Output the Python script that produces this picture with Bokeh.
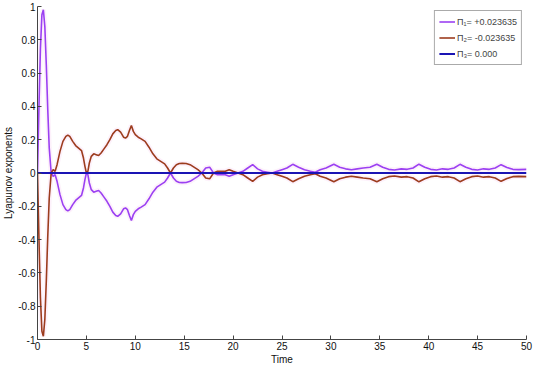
from bokeh.plotting import figure
from bokeh.models import Range1d, FixedTicker, CustomJSTickFormatter, Legend, LegendItem
from bokeh.embed import file_html
from bokeh.resources import INLINE

# ---- data ----
time_pts = [0, 0.15, 0.3, 0.45, 0.6, 0.75, 0.9, 1.05, 1.2, 1.4, 1.6, 1.8, 2.0, 2.3, 2.6, 2.9,
            3.1, 3.3, 3.6, 3.9, 4.2, 4.5, 4.7, 4.85, 5.0, 5.15, 5.3, 5.5, 5.75, 6.0, 6.25,
            6.5, 6.8, 7.1, 7.4, 7.7, 8.0, 8.2, 8.5, 8.8, 9.0, 9.2, 9.4, 9.6, 9.8, 10.0,
            10.3, 10.6, 11.0, 11.4, 11.8, 12.2, 12.6, 13.0, 13.3, 13.6, 13.9, 14.2, 14.5,
            14.8, 15.2, 15.6, 16.0, 16.4, 16.8, 17.2, 17.6, 18.0, 18.4, 18.8, 19.2, 19.6,
            20.0, 20.5, 21.0, 21.5, 22.0, 22.5, 23.0, 23.5, 24.0, 24.5, 25.0, 25.5, 26.1,
            26.7, 27.3, 27.9, 28.4, 28.9, 29.5, 30.3, 30.9, 31.5, 32.1, 32.7, 33.3, 34.0,
            34.7, 35.3, 35.9, 36.5, 37.2, 37.8, 38.4, 39.0, 39.6, 40.2, 40.8, 41.4, 42.0,
            42.6, 43.2, 43.8, 44.4, 45.0, 45.6, 46.2, 46.8, 47.4, 48.0, 48.6, 49.2, 50.0]

lam1 = [0.0, 0.40, 0.75, 0.95, 0.98, 0.88, 0.65, 0.38, 0.15, 0.0, -0.02, -0.01, -0.05, -0.13,
        -0.19, -0.22, -0.228, -0.22, -0.19, -0.165, -0.15, -0.135, -0.09, -0.04, 0.0, -0.01,
        -0.06, -0.10, -0.115, -0.11, -0.105, -0.12, -0.145, -0.17, -0.20, -0.235, -0.255,
        -0.26, -0.245, -0.215, -0.21, -0.22, -0.255, -0.285, -0.25, -0.23, -0.215, -0.205,
        -0.19, -0.155, -0.115, -0.085, -0.07, -0.055, -0.03, 0.0, -0.03, -0.05, -0.057,
        -0.058, -0.057, -0.05, -0.035, -0.02, 0.0, 0.03, 0.035, 0.0, -0.01, -0.01, -0.01,
        -0.02, -0.01, 0.0, 0.01, 0.03, 0.05, 0.025, 0.01, 0.005, 0.0, 0.01, 0.02, 0.03, 0.052,
        0.035, 0.02, 0.01, 0.005, 0.02, 0.03, 0.052, 0.035, 0.025, 0.02, 0.025, 0.03, 0.035,
        0.053, 0.035, 0.022, 0.018, 0.025, 0.022, 0.03, 0.053, 0.035, 0.022, 0.018, 0.025,
        0.022, 0.03, 0.052, 0.035, 0.022, 0.018, 0.025, 0.022, 0.03, 0.05, 0.033, 0.022,
        0.02, 0.022]

lam2 = [0.0, -0.40, -0.75, -0.95, -0.98, -0.88, -0.65, -0.38, -0.15, 0.0, 0.02, 0.01, 0.05, 0.13,
        0.19, 0.22, 0.228, 0.22, 0.19, 0.165, 0.15, 0.135, 0.09, 0.04, 0.0, 0.01,
        0.06, 0.10, 0.115, 0.11, 0.105, 0.12, 0.145, 0.17, 0.20, 0.235, 0.255,
        0.26, 0.245, 0.215, 0.21, 0.22, 0.255, 0.285, 0.25, 0.23, 0.215, 0.205,
        0.19, 0.155, 0.115, 0.085, 0.07, 0.055, 0.03, 0.0, 0.03, 0.05, 0.057,
        0.058, 0.057, 0.05, 0.035, 0.02, 0.0, -0.03, -0.035, 0.0, 0.01, 0.01, 0.01,
        0.02, 0.01, 0.0, -0.01, -0.03, -0.05, -0.025, -0.01, -0.005, 0.0, -0.01, -0.02, -0.03, -0.052,
        -0.035, -0.02, -0.01, -0.005, -0.02, -0.03, -0.052, -0.035, -0.025, -0.02, -0.025, -0.03, -0.035,
        -0.053, -0.035, -0.022, -0.018, -0.025, -0.022, -0.03, -0.053, -0.035, -0.022, -0.018, -0.025,
        -0.022, -0.03, -0.052, -0.035, -0.022, -0.018, -0.025, -0.022, -0.03, -0.05, -0.033, -0.022,
        -0.02, -0.022]

time3 = [0, 50]
lam3 = [0.0, 0.0]

labels = ["\u03a0\u2081= +0.023635", "\u03a0\u2082= -0.023635", "\u03a0\u2083= 0.000"]
x_ticks = [0, 5, 10, 15, 20, 25, 30, 35, 40, 45, 50]
y_ticks = [-1, -0.8, -0.6, -0.4, -0.2, 0, 0.2, 0.4, 0.6, 0.8, 1]

FONT = "Liberation Sans"

p = figure(width=534, height=367, output_backend="svg", toolbar_location=None,
           x_range=Range1d(0, 50), y_range=Range1d(-1, 1),
           min_border_top=6, min_border_right=8, min_border_left=4, min_border_bottom=6)
p.grid.visible = False
p.outline_line_color = None
p.background_fill_color = "white"
p.border_fill_color = "white"

# faint halo (as in the reference image)
p.line(time_pts, lam1, line_color="#fbe3f8", line_width=5, line_alpha=0.5)
p.line(time_pts, lam2, line_color="#fbe3f8", line_width=5, line_alpha=0.5)

r1 = p.line(time_pts, lam1, line_color="#9b40f2", line_width=1.6)
r2 = p.line(time_pts, lam2, line_color="#9c3c1e", line_width=1.6)
r3 = p.line(time3, lam3, line_color="#1a14b4", line_width=2)

for ax in (p.xaxis[0], p.yaxis[0]):
    ax.major_tick_in = 4
    ax.major_tick_out = 0
    ax.minor_tick_line_color = None
    ax.major_label_text_font = FONT
    ax.major_label_text_font_size = "10px"
    ax.major_label_text_color = "#111111"
    ax.axis_label_text_font = FONT
    ax.axis_label_text_font_size = "10px"
    ax.axis_label_text_font_style = "normal"
    ax.axis_label_text_color = "#111111"
    ax.axis_line_color = "#444444"
    ax.major_tick_line_color = "#444444"
    ax.major_label_standoff = 2
    ax.axis_label_standoff = 1

p.xaxis[0].ticker = FixedTicker(ticks=x_ticks)
p.yaxis[0].ticker = FixedTicker(ticks=y_ticks)
p.xaxis[0].axis_label = "Time"
p.yaxis[0].axis_label = "Lyapunov exponents"
p.yaxis[0].formatter = CustomJSTickFormatter(code="""
    let s = tick.toFixed(1);
    if (s.endsWith('.0')) s = s.slice(0, -2);
    if (s === '-0') s = '0';
    return s;
""")

legend = Legend(items=[LegendItem(label=labels[0], renderers=[r1]),
                       LegendItem(label=labels[1], renderers=[r2]),
                       LegendItem(label=labels[2], renderers=[r3])],
                location="top_right")
legend.label_text_font = FONT
legend.label_text_font_size = "9px"
legend.label_height = 13
legend.glyph_height = 13
legend.glyph_width = 16
legend.spacing = 3
legend.padding = 4
legend.margin = 4
legend.label_standoff = 2
legend.border_line_color = "#555555"
legend.border_line_width = 1
legend.background_fill_alpha = 1.0
p.add_layout(legend)

open("out.html", "w").write(file_html(p, INLINE))
